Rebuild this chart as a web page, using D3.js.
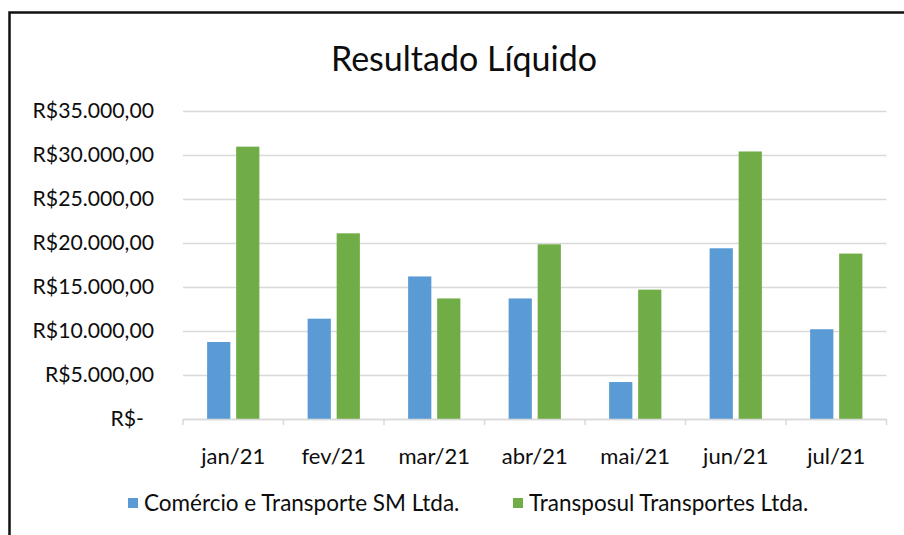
<!DOCTYPE html>
<html>
<head>
<meta charset="utf-8">
<script src="https://cdn.jsdelivr.net/npm/d3@7"></script>
<style>
  body { margin: 0; background: #fff; }
  text { font-family: Lato, "Open Sans", sans-serif; fill: #0d0d0d; }
</style>
</head>
<body>
<svg id="chart" width="904" height="535"></svg>
<script>
// data
const months = ['jan/21', 'fev/21', 'mar/21', 'abr/21', 'mai/21', 'jun/21', 'jul/21']
const seriesNames = ['Comércio e Transporte SM Ltda.', 'Transposul Transportes Ltda.']
const comercio = [8750, 11400, 16200, 13700, 4200, 19400, 10200]
const transposul = [30950, 21100, 13700, 19850, 14700, 30400, 18800]
const yTicks = [0, 5000, 10000, 15000, 20000, 25000, 30000, 35000]

const colors = ['#5B9BD5', '#70AD47']
const gridColor = '#d9d9d9'

const svg = d3.select('#chart')
const width = +svg.attr('width')
const height = +svg.attr('height')

// chart area border (only left and top visible in the picture)
svg.append('rect')
  .attr('x', 9.5).attr('y', 12.5)
  .attr('width', width + 20).attr('height', height + 20)
  .attr('fill', '#fff')
  .attr('stroke', '#111')
  .attr('stroke-width', 2.5)

// plot area
const plot = { left: 183, right: 886.5, top: 111, bottom: 419 }

const x = d3.scaleBand()
  .domain(months)
  .range([plot.left, plot.right])

const x1 = d3.scaleBand()
  .domain([0, 1])
  .range([x.bandwidth() * 0.24, x.bandwidth() * 0.76])
  .paddingInner(0.2)

const y = d3.scaleLinear()
  .domain([0, 35000])
  .range([plot.bottom, plot.top])

const brl = d3.formatLocale({ decimal: ',', thousands: '.', grouping: [3], currency: ['R$', ''] })
const money = brl.format('$,.2f')

// title
svg.append('text')
  .attr('x', 464)
  .attr('y', 71)
  .attr('text-anchor', 'middle')
  .style('font-size', '34px')
  .text('Resultado Líquido')

// gridlines + y labels
const yAxis = d3.axisLeft(y)
  .tickValues(yTicks)
  .tickSize(-(plot.right - plot.left))
  .tickPadding(29)
  .tickFormat(d => d === 0 ? 'R$-' : money(d))

const gy = svg.append('g')
  .attr('transform', `translate(${plot.left}, 0)`)
  .call(yAxis)

gy.select('.domain').remove()
gy.selectAll('.tick line')
  .attr('stroke', gridColor)
  .attr('stroke-width', 1.5)
gy.selectAll('.tick text')
  .style('font-size', '21.2px')
  .attr('fill', '#0d0d0d')
  .attr('font-family', null)
// the zero label is padded a little in the accounting format
gy.selectAll('.tick text')
  .filter(d => d === 0)
  .attr('x', -39)

// bars
const table = months.map((m, i) => ({ month: m, values: [comercio[i], transposul[i]] }))

svg.append('g')
  .selectAll('g')
  .data(table)
  .join('g')
    .attr('transform', d => `translate(${x(d.month)}, 0)`)
  .selectAll('rect')
  .data(d => d.values.map((v, k) => ({ k, v })))
  .join('rect')
    .attr('x', d => x1(d.k))
    .attr('y', d => y(d.v))
    .attr('width', x1.bandwidth())
    .attr('height', d => y(0) - y(d.v))
    .attr('fill', d => colors[d.k])

// category axis
const xAxis = d3.axisBottom(x)
  .tickSize(0)
  .tickPadding(29)

const gx = svg.append('g')
  .attr('transform', `translate(0, ${plot.bottom})`)
  .call(xAxis)

gx.select('.domain')
  .attr('stroke', gridColor)
  .attr('stroke-width', 1.5)
gx.selectAll('.tick text')
  .style('font-size', '22px')
  .attr('fill', '#0d0d0d')
  .attr('font-family', null)

// tick marks sit on band boundaries
gx.selectAll('line.sep')
  .data(months.concat(['end']))
  .join('line')
    .attr('class', 'sep')
    .attr('x1', (d, i) => i < months.length ? x(d) : plot.right)
    .attr('x2', (d, i) => i < months.length ? x(d) : plot.right)
    .attr('y1', 0)
    .attr('y2', 6)
    .attr('stroke', gridColor)
    .attr('stroke-width', 1.5)

// legend
const legendX = [128, 513]
const legend = svg.append('g')
  .selectAll('g')
  .data(seriesNames)
  .join('g')
    .attr('transform', (d, i) => `translate(${legendX[i]}, 503)`)

legend.append('rect')
  .attr('x', 0).attr('y', -5)
  .attr('width', 10).attr('height', 10)
  .attr('fill', (d, i) => colors[i])

legend.append('text')
  .attr('x', 16)
  .attr('dy', '0.35em')
  .style('font-size', '22.5px')
  .text(d => d)
</script>
</body>
</html>
